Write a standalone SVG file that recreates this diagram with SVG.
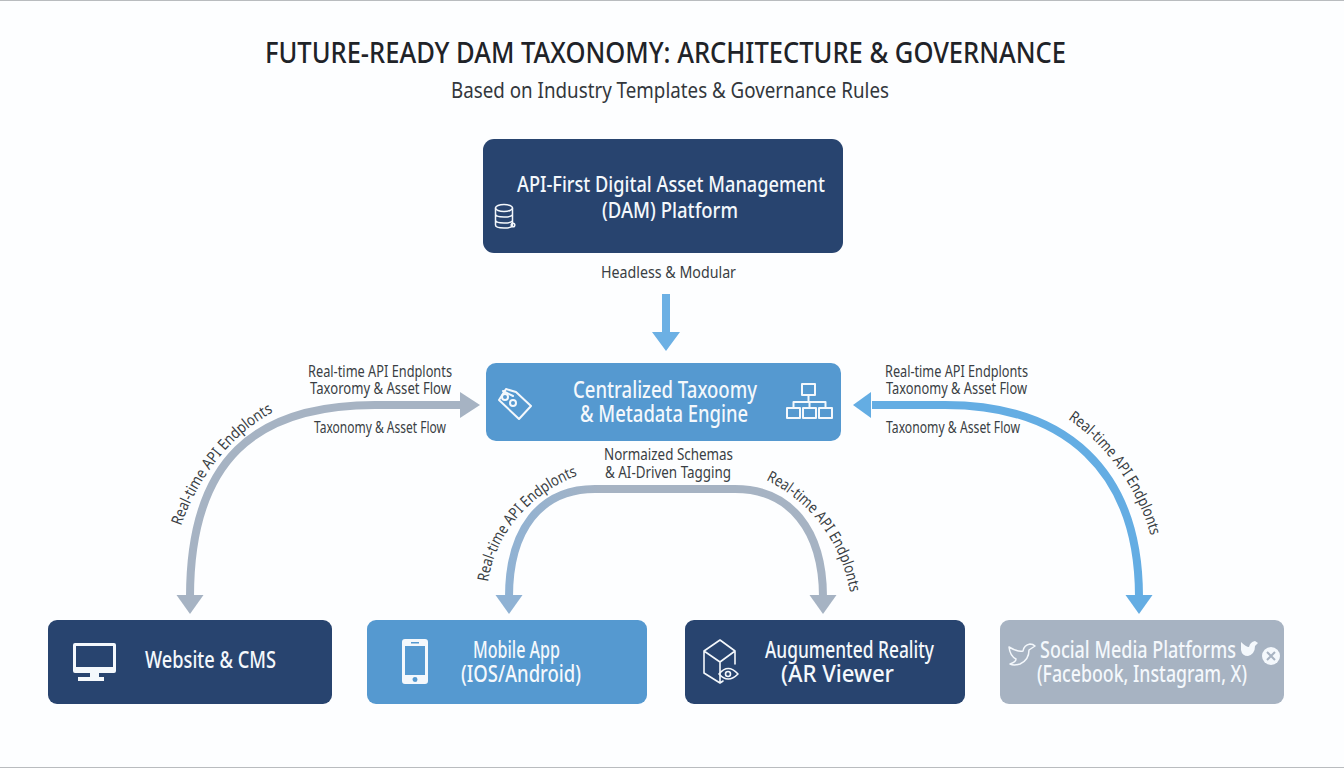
<svg xmlns="http://www.w3.org/2000/svg" width="1344" height="768" viewBox="0 0 1344 768">
<style>
text{font-family:"Noto Sans","Open Sans","Liberation Sans",sans-serif;}
.title{font-size:29px;font-weight:500;fill:#1f2328}
.sub{font-size:22px;fill:#33373c}
.lab{font-size:16px;fill:#3a3e44}
.cv{font-size:15.500px;fill:#3a3e44}
.nt{font-weight:500;fill:#f4f8fc;font-size:23px}
.nb{fill:#28446f}.nm{fill:#5599d0}.ng{fill:#a7b3c2}
.ic{fill:none;stroke:#f4f8fc;stroke-width:2;stroke-linejoin:round;stroke-linecap:round}
.icf{fill:#f4f8fc;stroke:none}
.c{fill:none;stroke-width:8}
</style>
<defs>
<linearGradient id="gm" gradientUnits="userSpaceOnUse" x1="505" y1="0" x2="830" y2="0"><stop offset="0" stop-color="#8fb2d4"/><stop offset="0.3" stop-color="#a6b3c3"/><stop offset="1" stop-color="#a6b3c3"/></linearGradient>
<path id="pl" d="M181 526C198 477 230 436 273 412L320 386"/>
<path id="pml" d="M488 582C495 535 528 495 576 476L620 458"/>
<path id="pmr" d="M766 480C805 499 838 535 849 587L858 630"/>
<path id="pr" d="M1068 419C1105 444 1136 486 1150 533L1162 575"/>
</defs>
<rect width="1344" height="768" fill="#fdfeff"/>
<rect width="1344" height="1" fill="#b9bcbf"/>
<rect y="767" width="1344" height="1" fill="#b9bcbf"/>
<text class="title" x="265" y="63" textLength="801" lengthAdjust="spacingAndGlyphs">FUTURE-READY DAM TAXONOMY: ARCHITECTURE &amp; GOVERNANCE</text>
<text class="sub" x="451" y="98" textLength="438" lengthAdjust="spacingAndGlyphs">Based on Industry Templates &amp; Governance Rules</text>

<g id="connectors">
<path d="M662 294h8v38h10l-14 19-14-19h10z" fill="#6cb0e4"/>
<path class="c" stroke="#a6b3c3" d="M461 405H375C255 405 190 460 190 597"/>
<path d="M480 405L460 392V418Z" fill="#a6b3c3"/>
<path d="M190 614L176.500 595H203.500Z" fill="#a6b3c3"/>
<path class="c" stroke="url(#gm)" d="M509 597C509 530 540 489 595 489H735C790 489 823 530 823 597"/>
<path d="M509 614L495.500 595H522.500Z" fill="#8fb2d4"/>
<path d="M823 614L809.500 595H836.500Z" fill="#a6b3c3"/>
<path class="c" stroke="#64ade3" d="M872 405H945C1065 405 1139 470 1139 597"/>
<path d="M853 405L871 392V418Z" fill="#64ade3"/>
<path d="M1139 614L1125.500 595H1152.500Z" fill="#64ade3"/>
</g>

<g id="edge-labels">
<text class="lab" x="601" y="278" textLength="135" lengthAdjust="spacingAndGlyphs" style="font-size:17px">Headless &amp; Modular</text>
<text class="lab" x="308" y="377" textLength="144" lengthAdjust="spacingAndGlyphs">Real-time API Endplonts</text>
<text class="lab" x="310" y="394" textLength="141" lengthAdjust="spacingAndGlyphs">Taxoromy &amp; Asset Flow</text>
<text class="lab" x="314" y="433" textLength="132" lengthAdjust="spacingAndGlyphs">Taxonomy &amp; Asset Flow</text>
<text class="lab" x="885" y="377" textLength="143" lengthAdjust="spacingAndGlyphs">Real-time API Endplonts</text>
<text class="lab" x="886" y="394" textLength="141" lengthAdjust="spacingAndGlyphs">Taxonomy &amp; Asset Flow</text>
<text class="lab" x="886" y="433" textLength="134" lengthAdjust="spacingAndGlyphs">Taxonomy &amp; Asset Flow</text>
<text class="lab" x="604" y="460" textLength="129" lengthAdjust="spacingAndGlyphs">Normaized Schemas</text>
<text class="lab" x="605" y="478" textLength="126" lengthAdjust="spacingAndGlyphs">&amp; AI-Driven Tagging</text>
<text class="cv"><textPath href="#pl" textLength="150" lengthAdjust="spacingAndGlyphs">Real-time API Endplonts</textPath></text>
<text class="cv"><textPath href="#pml" textLength="146" lengthAdjust="spacingAndGlyphs">Real-time API Endplonts</textPath></text>
<text class="cv"><textPath href="#pmr" textLength="146" lengthAdjust="spacingAndGlyphs">Real-time API Endplonts</textPath></text>
<text class="cv"><textPath href="#pr" textLength="146" lengthAdjust="spacingAndGlyphs">Real-time API Endplonts</textPath></text>
</g>

<g id="node-dam">
<rect class="nb" x="483" y="139" width="360" height="114" rx="11"/>
<text class="nt" style="font-size:22px" x="517" y="192" textLength="308" lengthAdjust="spacingAndGlyphs">API-First Digital Asset Management</text>
<text class="nt" style="font-size:22px" x="602" y="218" textLength="136" lengthAdjust="spacingAndGlyphs">(DAM) Platform</text>
<g class="ic" style="stroke-width:1.500">
<ellipse cx="504" cy="208" rx="8.500" ry="3.500"/>
<path d="M495.500 208V225C495.500 229 512.500 229 512.500 225V208M495.500 214C495.500 218 512.500 218 512.500 214M495.500 220C495.500 224 512.500 224 512.500 220"/>
<circle cx="513" cy="225" r="1.800"/>
</g>
</g>

<g id="node-engine">
<rect class="nm" x="486" y="363" width="355" height="78" rx="10"/>
<text class="nt" x="573" y="398" textLength="184" lengthAdjust="spacingAndGlyphs">Centralized Taxoomy</text>
<text class="nt" x="580" y="422" textLength="168" lengthAdjust="spacingAndGlyphs">&amp; Metadata Engine</text>
<g class="ic">
<path d="M499 400L506 389L516 392L531 406L519 419Z"/>
<circle cx="505" cy="397" r="3"/>
<circle cx="513" cy="403" r="3"/>
<path d="M503 391L513 396"/>
</g>
<g class="ic">
<rect x="802" y="384" width="13" height="11"/>
<rect x="787" y="408" width="13" height="10"/>
<rect x="803" y="408" width="13" height="10"/>
<rect x="819" y="408" width="13" height="10"/>
<path d="M808.500 395V402M793.500 408V402H825.500V408M809.500 402V408"/>
</g>
</g>

<g id="node-website">
<rect class="nb" x="48" y="620" width="284" height="84" rx="9"/>
<text class="nt" x="145" y="668" textLength="131" lengthAdjust="spacingAndGlyphs">Website &amp; CMS</text>
<path class="icf" fill-rule="evenodd" d="M75 643H114Q116 643 116 645V671Q116 673 114 673H99V677H104V681H78V677H90V673H75Q73 673 73 671V645Q73 643 75 643ZM76 646V667H113V646Z"/>
</g>

<g id="node-mobile">
<rect class="nm" x="367" y="620" width="280" height="84" rx="9"/>
<text class="nt" x="473" y="658" textLength="87" lengthAdjust="spacingAndGlyphs">Mobile App</text>
<text class="nt" x="461" y="682" textLength="120" lengthAdjust="spacingAndGlyphs">(IOS/Android)</text>
<path class="icf" fill-rule="evenodd" d="M405 639H425Q428 639 428 642V681Q428 684 425 684H405Q402 684 402 681V642Q402 639 405 639ZM405 646V675H425V646ZM411 642V643.500H419V642ZM415 677A2.500 2.500 0 1 0 415.010 682A2.500 2.500 0 1 0 415 677Z"/>
</g>

<g id="node-ar">
<rect class="nb" x="685" y="620" width="280" height="84" rx="9"/>
<text class="nt" x="765" y="658" textLength="169" lengthAdjust="spacingAndGlyphs">Augumented Reality</text>
<text class="nt" x="781" y="682" textLength="113" lengthAdjust="spacingAndGlyphs">(AR Viewer</text>
<g class="ic" style="stroke-width:1.600">
<path d="M720 640L704 651V673L720 683L723 681M704 651L720 662L735 651L720 640M720 662V683M735 651V664"/>
<path d="M719 674Q728 663 738 674Q728 684 719 674"/>
<circle cx="728" cy="674" r="2.500"/>
</g>
</g>

<g id="node-social">
<rect class="ng" x="1000" y="620" width="284" height="84" rx="9"/>
<text class="nt" x="1040" y="658" textLength="196" lengthAdjust="spacingAndGlyphs">Social Media Platforms</text>
<text class="nt" x="1037" y="682" textLength="210" lengthAdjust="spacingAndGlyphs">(Facebook, Instagram, X)</text>
<path class="ic" style="stroke-width:1.500" d="M1009 647Q1017 652 1023 651Q1024 645 1030 644Q1033 644 1035 646L1029 650Q1029 660 1020 664Q1014 666 1010 664Q1016 662 1016 659Q1010 656 1009 647Z"/>
<path class="icf" d="M1241 642Q1246 647 1249 647Q1250 642 1255 641L1258 643L1255 646Q1255 654 1248 656Q1242 656 1241 650Z"/>
<circle class="icf" cx="1271" cy="656" r="9"/>
<path d="M1267 652L1275 660M1275 652L1267 660" stroke="#a7b3c2" stroke-width="2" fill="none"/>
</g>
</svg>
